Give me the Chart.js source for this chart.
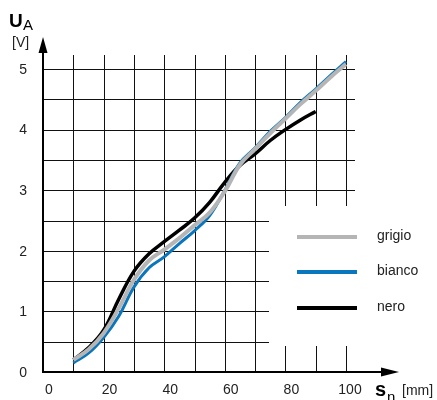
<!DOCTYPE html>
<html lang="it">
<head>
<meta charset="utf-8">
<title>U_A - s_n</title>
<script src="https://cdn.jsdelivr.net/npm/chart.js@4.4.1/dist/chart.umd.min.js"></script>
<style>
  html, body { margin: 0; padding: 0; background: #fff; }
  #wrap { width: 437px; height: 400px; }
</style>
</head>
<body>
<div id="wrap"><canvas id="grafico" width="437" height="400"></canvas></div>
<script>
/* Curve caratteristiche U_A / s_n */
const corsa = [10, 15, 20, 25, 30, 35, 40, 45, 50, 55, 60, 65, 70, 75, 80, 85, 90, 95, 100];
const grigio = [0.2, 0.37, 0.64, 1.05, 1.52, 1.84, 2.02, 2.21, 2.42, 2.63, 2.98, 3.42, 3.68, 3.94, 4.18, 4.42, 4.64, 4.87, 5.08];
const bianco = [0.15, 0.31, 0.57, 0.92, 1.4, 1.72, 1.9, 2.12, 2.33, 2.58, 3.0, 3.45, 3.7, 3.97, 4.2, 4.45, 4.67, 4.9, 5.12];
const nero = [0.2, 0.4, 0.69, 1.2, 1.66, 1.95, 2.15, 2.34, 2.54, 2.8, 3.13, 3.41, 3.6, 3.82, 4.0, 4.16, 4.3];
const etichetteX = [0, 20, 40, 60, 80, 100];
const etichetteY = [0, 1, 2, 3, 4, 5];
const grigliaX = [10, 20, 30, 40, 50, 60, 70, 80, 90, 100];
const grigliaY = [0.5, 1, 1.5, 2, 2.5, 3, 3.5, 4, 4.5, 5];
const nomi = ['grigio', 'bianco', 'nero'];

const FONT = "'Liberation Sans', Arial, Helvetica, sans-serif";

function punti(valori) {
  return valori.map((v, i) => ({ x: corsa[i], y: v }));
}

// griglia, assi, etichette e legenda disegnati a mano sulle scale del grafico
const disegno = {
  id: 'disegno',
  beforeDatasetsDraw(chart) {
    const { ctx, scales: { x, y } } = chart;
    ctx.save();
    ctx.strokeStyle = '#111';
    ctx.lineWidth = 1;
    const x0 = x.getPixelForValue(0);
    const y0 = y.getPixelForValue(0);
    const topGriglia = y.getPixelForValue(5) - 14;
    const destraGriglia = x.getPixelForValue(100) + 9;
    grigliaX.forEach((v) => {
      const px = Math.round(x.getPixelForValue(v)) + 0.5;
      ctx.beginPath(); ctx.moveTo(px, y0); ctx.lineTo(px, topGriglia); ctx.stroke();
    });
    grigliaY.forEach((v) => {
      const py = Math.round(y.getPixelForValue(v)) + 0.5;
      ctx.beginPath(); ctx.moveTo(x0, py); ctx.lineTo(destraGriglia, py); ctx.stroke();
    });

    // riquadro bianco della legenda
    ctx.fillStyle = '#fff';
    ctx.fillRect(269, 206, 100, 140);

    // assi con frecce
    ctx.strokeStyle = '#000';
    ctx.fillStyle = '#000';
    ctx.lineWidth = 2;
    ctx.beginPath(); ctx.moveTo(x0, y0); ctx.lineTo(x0, 50); ctx.stroke();
    ctx.beginPath(); ctx.moveTo(x0 - 1, y0); ctx.lineTo(385, y0); ctx.stroke();
    ctx.beginPath(); ctx.moveTo(x0, 37); ctx.lineTo(x0 - 4.5, 53); ctx.lineTo(x0 + 4.5, 53); ctx.closePath(); ctx.fill();
    ctx.beginPath(); ctx.moveTo(399, y0); ctx.lineTo(381, y0 - 4.5); ctx.lineTo(381, y0 + 4.5); ctx.closePath(); ctx.fill();

    // etichette
    ctx.fillStyle = '#222';
    ctx.font = '14px ' + FONT;
    ctx.textAlign = 'right';
    ctx.textBaseline = 'middle';
    etichetteY.forEach((v) => ctx.fillText(String(v), 27, y.getPixelForValue(v) + 1));
    ctx.textAlign = 'center';
    etichetteX.forEach((v) => ctx.fillText(String(v), x.getPixelForValue(v) + (v === 100 ? 4 : 6), 390));

    // titoli assi
    ctx.fillStyle = '#000';
    ctx.textAlign = 'left';
    ctx.textBaseline = 'alphabetic';
    ctx.font = 'bold 19px ' + FONT;
    ctx.fillText('U', 9, 27);
    ctx.font = '15px ' + FONT;
    ctx.fillText('A', 23, 30);
    ctx.font = '14px ' + FONT;
    ctx.fillStyle = '#222';
    ctx.fillText('[V]', 12, 47);
    ctx.fillStyle = '#000';
    ctx.font = 'bold 20px ' + FONT;
    ctx.fillText('s', 375, 396);
    ctx.font = '15px ' + FONT;
    ctx.fillText('n', 387, 402);
    ctx.font = '14px ' + FONT;
    ctx.fillStyle = '#222';
    ctx.fillText('[mm]', 402, 395);

    // legenda
    const righe = [237, 272, 308];
    chart.data.datasets.forEach((ds, i) => {
      ctx.strokeStyle = ds.borderColor;
      ctx.lineWidth = 4;
      ctx.beginPath(); ctx.moveTo(297, righe[i]); ctx.lineTo(357, righe[i]); ctx.stroke();
      ctx.fillStyle = '#222';
      ctx.font = '14px ' + FONT;
      ctx.textBaseline = 'middle';
      ctx.fillText(nomi[i], 377, righe[i] - 1);
    });
    ctx.restore();
  },
};

new Chart(document.getElementById('grafico'), {
  type: 'line',
  data: {
    datasets: [
      { label: nomi[0], data: punti(grigio), borderColor: '#b5b5b5', borderWidth: 4 },
      { label: nomi[1], data: punti(bianco), borderColor: '#0a76bd', borderWidth: 3 },
      { label: nomi[2], data: punti(nero), borderColor: '#000000', borderWidth: 3.5 },
    ],
  },
  options: {
    responsive: false,
    animation: false,
    events: [],
    layout: { padding: { left: 43, top: 69, right: 91, bottom: 28 } },
    datasets: { line: { clip: false } },
    elements: {
      point: { radius: 0 },
      line: { tension: 0.4, fill: false, borderCapStyle: 'butt' },
    },
    plugins: { legend: { display: false }, tooltip: { enabled: false } },
    scales: {
      x: { type: 'linear', min: 0, max: 100, display: false },
      y: { type: 'linear', min: 0, max: 5, display: false },
    },
  },
  plugins: [disegno],
});
</script>
</body>
</html>
